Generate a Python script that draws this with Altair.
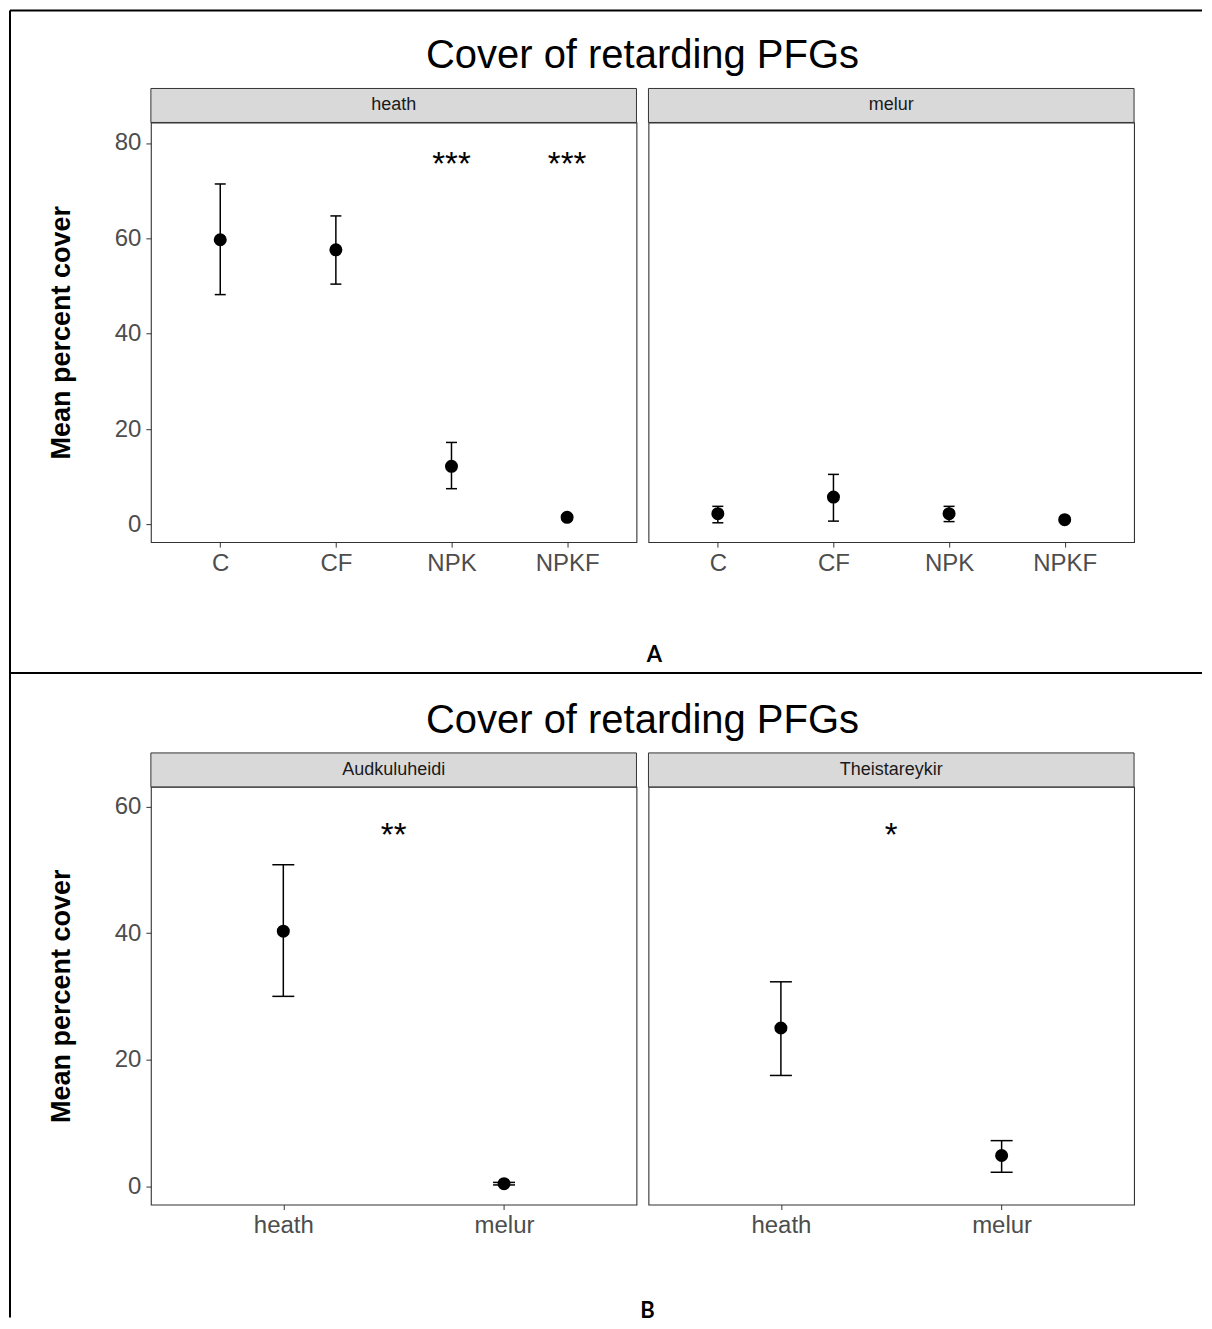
import json
import altair as alt
import pandas as pd

TITLE = "Cover of retarding PFGs"
Y_TITLE = "Mean percent cover"
FIGURE_LABELS = ["A", "B"]

# ---------------- Figure A: treatments, faceted by habitat ----------------
A_TREATMENTS = ["C", "CF", "NPK", "NPKF"]
A_PANELS = ["heath", "melur"]
A_HEATH_MEAN = [59.7, 57.6, 12.2, 1.5]
A_HEATH_LOW = [48.2, 50.4, 7.5, 1.0]
A_HEATH_HIGH = [71.4, 64.7, 17.2, 2.0]
A_MELUR_MEAN = [2.25, 5.75, 2.25, 1.0]
A_MELUR_LOW = [0.35, 0.7, 0.6, 0.6]
A_MELUR_HIGH = [3.8, 10.5, 3.8, 1.4]
A_HEATH_SIG = ["", "", "***", "***"]
A_MELUR_SIG = ["", "", "", ""]
A_SIG_Y = 76.3
A_Y_DOMAIN = [-3.7, 84.3]
A_Y_TICKS = [0, 20, 40, 60, 80]

# ---------------- Figure B: habitats, faceted by site ----------------
B_HABITATS = ["heath", "melur"]
B_PANELS = ["Audkuluheidi", "Theistareykir"]
B_AUD_MEAN = [40.3, 0.4]
B_AUD_LOW = [30.0, 0.2]
B_AUD_HIGH = [50.8, 0.6]
B_THE_MEAN = [25.0, 4.85]
B_THE_LOW = [17.5, 2.2]
B_THE_HIGH = [32.3, 7.2]
B_AUD_SIG = ["**"]
B_THE_SIG = ["*"]
B_SIG_X = [1.5]
B_SIG_Y = 56.0
B_Y_DOMAIN = [-2.9, 63.1]
B_Y_TICKS = [0, 20, 40, 60]

W = 486
H_A = 420
H_B = 418
GAP = 12
FONT = "Liberation Sans"


def make_df(cats, mean, low, high):
    return pd.DataFrame({
        "cat": cats,
        "pos": list(range(1, len(cats) + 1)),
        "mean": mean,
        "low": low,
        "high": high,
    })


def panel(df, sig_df, cats, y_domain, y_ticks, strip, height, show_y, cap_w, extras=()):
    n = len(cats)
    x_scale = alt.Scale(domain=[0.4, n + 0.6], nice=False, zero=False)
    y_scale = alt.Scale(domain=y_domain, nice=False, zero=False)
    x_axis = alt.Axis(
        values=list(range(1, n + 1)),
        labelExpr=json.dumps(cats) + "[datum.value - 1]",
        title=None, grid=False, domain=False,
        tickColor="#333333", tickSize=5, tickWidth=1,
        labelFontSize=24, labelColor="#4D4D4D", labelPadding=4, labelFont=FONT,
    )
    if show_y:
        y_axis = alt.Axis(
            values=y_ticks, format="d", title=Y_TITLE, grid=False, domain=False,
            tickColor="#333333", tickSize=5, tickWidth=1,
            labelFontSize=24, labelColor="#4D4D4D", labelPadding=5, labelFont=FONT,
            titleFontSize=27, titleFontWeight="bold", titleColor="#000000",
            titlePadding=39, titleFont=FONT,
        )
    else:
        y_axis = None

    def X(f):
        return alt.X(f, type="quantitative", scale=x_scale, axis=x_axis)

    def Y(f):
        return alt.Y(f, type="quantitative", scale=y_scale, axis=y_axis)

    base = alt.Chart(df)
    bars = base.mark_rule(color="#000000", strokeWidth=1.5).encode(
        x=X("pos"), y=Y("low"), y2="high")
    cap_lo = base.mark_tick(orient="horizontal", size=cap_w, thickness=1.5,
                            color="#000000", opacity=1).encode(x=X("pos"), y=Y("low"))
    cap_hi = base.mark_tick(orient="horizontal", size=cap_w, thickness=1.5,
                            color="#000000", opacity=1).encode(x=X("pos"), y=Y("high"))
    pts = base.mark_circle(size=170, color="#000000", opacity=1).encode(
        x=X("pos"), y=Y("mean"))
    stars = alt.Chart(sig_df).mark_text(
        fontSize=33, color="#000000", baseline="middle", align="center", dy=4, font=FONT
    ).encode(x=X("pos"), y=Y("y"), text="sig:N")

    strip_data = alt.Data(values=[{"strip": strip}])
    strip_rect = alt.Chart(strip_data).mark_rect(
        fill="#D9D9D9", stroke="#333333", strokeWidth=1
    ).encode(x=alt.value(0), x2=alt.value(W), y=alt.value(-34), y2=alt.value(0))
    strip_text = alt.Chart(strip_data).mark_text(
        fontSize=18, color="#1A1A1A", baseline="middle", align="center", font=FONT
    ).encode(x=alt.value(W / 2), y=alt.value(-17), text="strip:N")

    layers = [strip_rect, strip_text, bars, cap_lo, cap_hi, pts, stars] + list(extras)
    return alt.layer(*layers).properties(width=W, height=height)


def title_layer(text):
    return alt.Chart(alt.Data(values=[{"t": text}])).mark_text(
        fontSize=40, color="#000000", baseline="alphabetic", align="center", font=FONT
    ).encode(x=alt.value(W + GAP / 2), y=alt.value(-54), text="t:N")


def fig_label(text, x, y):
    return alt.Chart(alt.Data(values=[{"t": text}])).mark_text(
        fontSize=22, fontWeight="bold", color="#000000", baseline="middle",
        align="center", font="Lato"
    ).encode(x=alt.value(x), y=alt.value(y), text="t:N")


def frame_line(name, x, x2, y, y2):
    return alt.Chart(alt.Data(values=[{"line": name}])).mark_rule(
        color="#000000", strokeWidth=2
    ).encode(x=alt.value(x), x2=alt.value(x2), y=alt.value(y), y2=alt.value(y2))


# data frames
a_heath = make_df(A_TREATMENTS, A_HEATH_MEAN, A_HEATH_LOW, A_HEATH_HIGH)
a_melur = make_df(A_TREATMENTS, A_MELUR_MEAN, A_MELUR_LOW, A_MELUR_HIGH)
a_heath_sig = pd.DataFrame({"pos": list(range(1, 5)), "sig": A_HEATH_SIG, "y": [A_SIG_Y] * 4})
a_melur_sig = pd.DataFrame({"pos": list(range(1, 5)), "sig": A_MELUR_SIG, "y": [A_SIG_Y] * 4})
b_aud = make_df(B_HABITATS, B_AUD_MEAN, B_AUD_LOW, B_AUD_HIGH)
b_the = make_df(B_HABITATS, B_THE_MEAN, B_THE_LOW, B_THE_HIGH)
b_aud_sig = pd.DataFrame({"pos": B_SIG_X, "sig": B_AUD_SIG, "y": [B_SIG_Y]})
b_the_sig = pd.DataFrame({"pos": B_SIG_X, "sig": B_THE_SIG, "y": [B_SIG_Y]})

extras_a = [
    title_layer(TITLE),
    fig_label(FIGURE_LABELS[0], 504, 533),
    frame_line("left", -141, -141, -112, 1196),
    frame_line("top", -141, 1052, -112, -112),
    frame_line("middle", -141, 1052, 551, 551),
]
extras_b = [
    title_layer(TITLE),
    fig_label(FIGURE_LABELS[1], 497, 525),
]

p1 = panel(a_heath, a_heath_sig, A_TREATMENTS, A_Y_DOMAIN, A_Y_TICKS, A_PANELS[0], H_A, True, 11, extras_a)
p2 = panel(a_melur, a_melur_sig, A_TREATMENTS, A_Y_DOMAIN, A_Y_TICKS, A_PANELS[1], H_A, False, 11)
p3 = panel(b_aud, b_aud_sig, B_HABITATS, B_Y_DOMAIN, B_Y_TICKS, B_PANELS[0], H_B, True, 22, extras_b)
p4 = panel(b_the, b_the_sig, B_HABITATS, B_Y_DOMAIN, B_Y_TICKS, B_PANELS[1], H_B, False, 22)

chart = alt.concat(
    p1, p2, p3, p4, columns=2, spacing={"row": 245, "column": GAP}, bounds="flush"
).properties(
    padding=0, background="white"
).configure(
    font=FONT
).configure_view(
    stroke="#333333", strokeWidth=1.1
)

chart.save("out.html", embed_options={"renderer": "svg", "actions": False})
